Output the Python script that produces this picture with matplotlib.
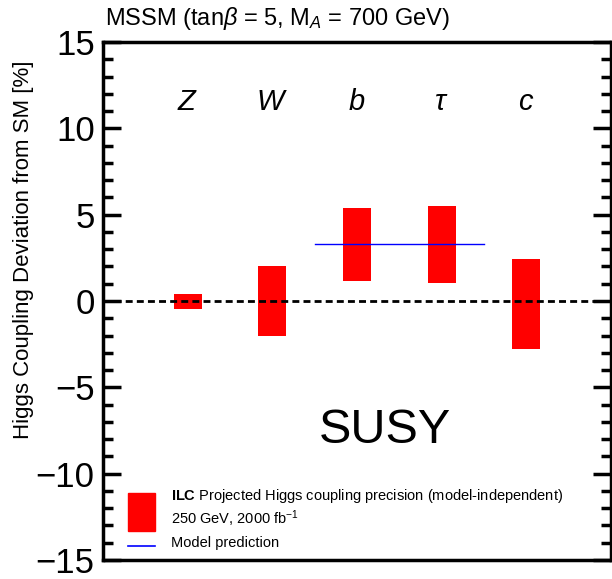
import matplotlib.pyplot as plt
from matplotlib.patches import Rectangle
from matplotlib.ticker import MultipleLocator

plt.rcParams['font.family'] = ['Liberation Sans', 'DejaVu Sans']
plt.rcParams['mathtext.fontset'] = 'custom'
plt.rcParams['mathtext.rm'] = 'Liberation Sans'
plt.rcParams['mathtext.it'] = 'Liberation Sans:italic'
plt.rcParams['mathtext.bf'] = 'Liberation Sans:bold'

# dados (desvio em %)
acoplamentos = ['$Z$', '$W$', '$b$', r'$\tau$', '$c$']
posicoes = [1, 2, 3, 4, 5]
limite_inferior = [-0.45, -2.05, 1.15, 1.05, -2.8]
limite_superior = [0.4, 2.05, 5.4, 5.5, 2.45]
previsao_modelo = 3.3
previsao_x = [2.5, 4.5]

fig = plt.figure(figsize=(6.12, 5.79), dpi=100)
ax = fig.add_axes([103 / 612, 19 / 579, 508 / 612, 518 / 579])

# barras vermelhas de precisao
largura = 0.33
for x, lo, hi in zip(posicoes, limite_inferior, limite_superior):
    ax.bar(x, hi - lo, bottom=lo, width=largura, color='red', zorder=2)

# linha de referencia do SM
ax.axhline(0, color='black', linestyle=(0, (2.5, 1.5)), linewidth=2, zorder=3)
# previsao do modelo
ax.plot(previsao_x, [previsao_modelo] * 2, color='blue', linewidth=1, zorder=4)

for x, nome in zip(posicoes, acoplamentos):
    ax.text(x, 11.05, nome, ha='center', va='baseline', fontsize=21)

ax.text(3.33, -7.5, 'SUSY', ha='center', va='center', fontsize=35)

ax.set_xlim(0, 6)
ax.set_ylim(-15, 15)
ax.set_xticks([])
ax.yaxis.set_major_locator(MultipleLocator(5))
ax.yaxis.set_minor_locator(MultipleLocator(1))
ax.tick_params(axis='y', which='both', direction='in', left=True, right=True,
               labelsize=25, width=2.5, pad=6)
ax.tick_params(axis='y', which='major', length=13)
ax.tick_params(axis='y', which='minor', length=7)
ax.set_yticks(range(-15, 16, 5))
ax.set_yticklabels([str(v).replace('-', '\u2212') for v in range(-15, 16, 5)])
for s in ax.spines.values():
    s.set_linewidth(2.5)
ax.set_ylabel('Higgs Coupling Deviation from SM [%]', fontsize=16)
ax.yaxis.set_label_coords(-69 / 508, 310 / 518)

# legenda desenhada a mao
ax.add_patch(Rectangle((25 / 508, 29 / 518), 27 / 508, 38 / 518,
                       transform=ax.transAxes, color='red', zorder=5))
ax.plot([25 / 508, 52 / 508], [14 / 518, 14 / 518], transform=ax.transAxes,
        color='blue', linewidth=1.2, zorder=5)
ax.text(68 / 508, 64 / 518, r'$\bf{ILC}$ Projected Higgs coupling precision (model-independent)',
        transform=ax.transAxes, fontsize=10.5, va='center')
ax.text(68 / 508, 41 / 518, r'250 GeV, 2000 fb$^{\mathregular{-1}}$',
        transform=ax.transAxes, fontsize=10.5, va='center')
ax.text(68 / 508, 17 / 518, 'Model prediction',
        transform=ax.transAxes, fontsize=10.5, va='center')

fig.text(105 / 612, 1 - 25 / 579, r'MSSM (tan$\beta$ = 5, M$_{A}$ = 700 GeV)',
         fontsize=17, va='baseline', ha='left')

fig.savefig('out.png', dpi=100)
